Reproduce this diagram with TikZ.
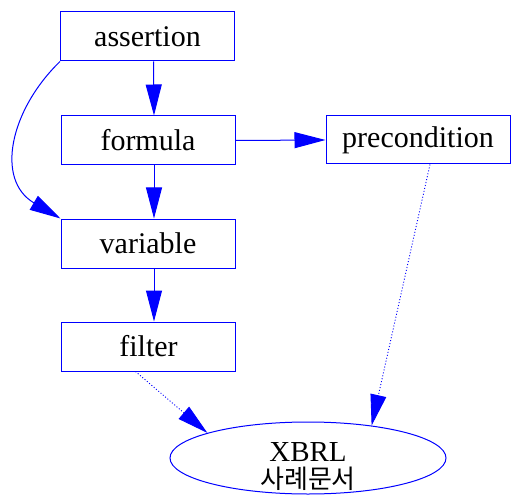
\documentclass[tikz,border=0pt]{standalone}
\usepackage{fontspec}
\setmainfont{Liberation Serif}
\newfontfamily\krfont{Noto Sans CJK KR}
\usetikzlibrary{arrows.meta,shapes.geometric}
\begin{document}
\begin{tikzpicture}[x=1pt,y=-1pt,
  box/.style={draw=blue, line width=1pt, minimum width=174pt, minimum height=49pt, inner sep=0pt, font=\fontsize{30}{31}\selectfont},
  arr/.style={draw=blue, line width=1pt, -{Triangle[length=31pt,width=16pt]}},
  darr/.style={draw=blue, line width=0.9pt, dash pattern=on 1pt off 2pt, -{Triangle[length=31pt,width=16pt]}}]
\useasboundingbox (0,0) rectangle (511,497);
\node[box] (a) at (147.5,36.5) {assertion};
\node[box] (f) at (148,140.5) {formula};
\node[box] (v) at (148,243.5) {variable};
\node[box] (fl) at (148.5,346.5) {filter};
\node[box, minimum width=184pt, minimum height=48pt] (p) at (418,140) {precondition};
\node[ellipse, draw=blue, line width=1pt, minimum width=276pt, minimum height=72pt, inner sep=0pt] (x) at (308,458) {};
\node[inner sep=0pt, align=center, font=\fontsize{29}{27}\selectfont] (xt) at (308,467) {XBRL\\{\krfont\fontsize{26}{27}\selectfont 사례문서}};
\draw[arr] ([xshift=6pt]a.south) -- ([xshift=6pt]f.north);
\draw[arr] ([xshift=6pt]f.south) -- ([xshift=6pt]v.north);
\draw[arr] ([xshift=6pt]v.south) -- ([xshift=5.5pt]fl.north);
\draw[arr] (a.south west) .. controls (10,110) and (-5,180) .. (v.north west);
\draw[arr] (f.east) -- (p.west);
\draw[darr] ([xshift=-13pt]fl.south) -- (x.166);
\draw[darr] ([xshift=12pt]p.south) -- (x.27);
\end{tikzpicture}
\end{document}
